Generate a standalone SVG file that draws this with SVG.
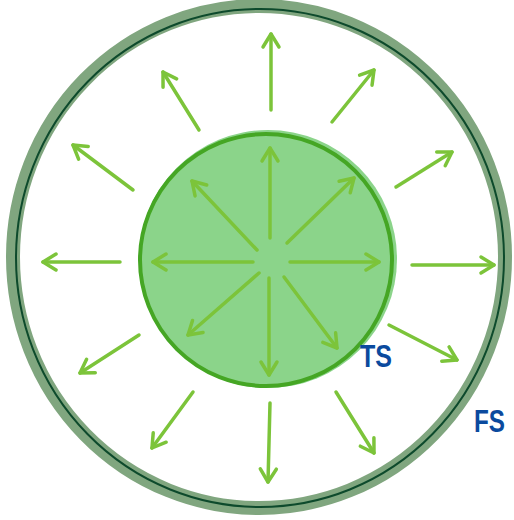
<svg xmlns="http://www.w3.org/2000/svg" width="514" height="520" viewBox="0 0 514 520">
<style>
.band{fill:none;stroke:#80a67f;stroke-width:14;stroke-linejoin:round}
.line{fill:none;stroke:#0d4a2c;stroke-width:2}
.arr{fill:none;stroke:#7cc43a;stroke-width:3.5;stroke-linecap:round}
.lbl{font-family:"Liberation Sans","DejaVu Sans",sans-serif;font-size:31px;font-weight:bold;fill:#0b4a9e}
</style>
<defs>
<marker id="ah" markerUnits="userSpaceOnUse" markerWidth="30" markerHeight="30" refX="0" refY="0" viewBox="-15 -15 30 30" orient="auto" overflow="visible">
<path d="M-13,-8 L0,0 L-13,8" fill="none" stroke="#7cc43a" stroke-width="3.5" stroke-linecap="round" stroke-linejoin="round"/>
</marker>
</defs>
<rect width="514" height="520" fill="#fff"/>
<g id="fs">
<ellipse class="band" cx="259" cy="257" rx="246" ry="251"/>
<ellipse class="line" cx="260" cy="258" rx="244" ry="249"/>
</g>
<g id="ts">
<circle cx="268" cy="259" r="129" fill="#8bd48a"/>
<circle cx="266" cy="260" r="126" fill="#8bd48a" stroke="#45a624" stroke-width="4"/>
</g>
<g id="connectors">
<line class="arr" marker-end="url(#ah)" x1="270" y1="238" x2="270" y2="148"/>
<line class="arr" marker-end="url(#ah)" x1="287" y1="243" x2="354" y2="178"/>
<line class="arr" marker-end="url(#ah)" x1="290" y1="262" x2="379" y2="262"/>
<line class="arr" marker-end="url(#ah)" x1="284" y1="277" x2="337" y2="348"/>
<line class="arr" marker-end="url(#ah)" x1="269" y1="278" x2="269" y2="375"/>
<line class="arr" marker-end="url(#ah)" x1="259" y1="273" x2="188" y2="335"/>
<line class="arr" marker-end="url(#ah)" x1="253" y1="262" x2="153" y2="262"/>
<line class="arr" marker-end="url(#ah)" x1="257" y1="250" x2="192" y2="181"/>
<line class="arr" marker-end="url(#ah)" x1="271" y1="110" x2="271" y2="34"/>
<line class="arr" marker-end="url(#ah)" x1="332" y1="122" x2="374" y2="70"/>
<line class="arr" marker-end="url(#ah)" x1="396" y1="187" x2="452" y2="152"/>
<line class="arr" marker-end="url(#ah)" x1="412" y1="265" x2="494" y2="265"/>
<line class="arr" marker-end="url(#ah)" x1="389" y1="325" x2="457" y2="360"/>
<line class="arr" marker-end="url(#ah)" x1="336" y1="392" x2="374" y2="453"/>
<line class="arr" marker-end="url(#ah)" x1="270" y1="403" x2="268" y2="482"/>
<line class="arr" marker-end="url(#ah)" x1="193" y1="392" x2="152" y2="448"/>
<line class="arr" marker-end="url(#ah)" x1="139" y1="335" x2="80" y2="373"/>
<line class="arr" marker-end="url(#ah)" x1="120" y1="262" x2="43" y2="262"/>
<line class="arr" marker-end="url(#ah)" x1="133" y1="190" x2="73" y2="145"/>
<line class="arr" marker-end="url(#ah)" x1="199" y1="130" x2="163" y2="72"/>
</g>
<g id="labels">
<text class="lbl" x="360" y="367" textLength="32" lengthAdjust="spacingAndGlyphs">TS</text>
<text class="lbl" x="474" y="432" textLength="31" lengthAdjust="spacingAndGlyphs">FS</text>
</g>
</svg>
